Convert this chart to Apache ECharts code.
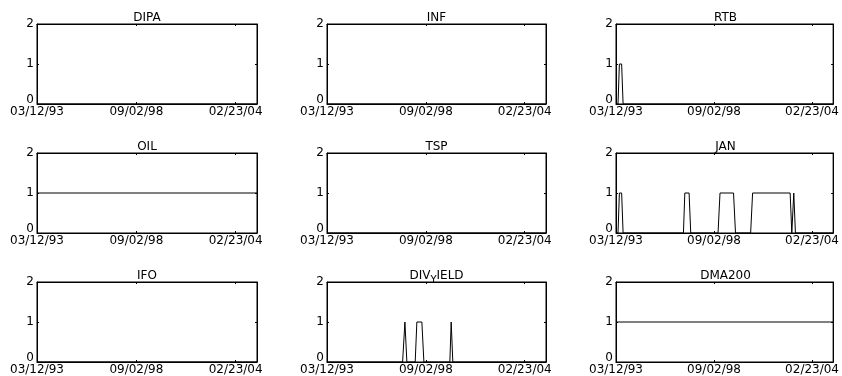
<!DOCTYPE html>
<html><head><meta charset="utf-8">
<script src="https://cdn.jsdelivr.net/npm/echarts@6/dist/echarts.min.js"></script>
<style>html,body{margin:0;padding:0;background:#fff}#c{width:842px;height:376px}</style>
</head><body><div id="c"></div>
<script>
// ---- data ----
const startDate = '1993-03-12';
const endDate = '2005-04-28';
const xTickStepDays = 2000;          // ticks: 03/12/93, 09/02/98, 02/23/04
const yMin = 0, yMax = 2, yStep = 1; // ticks: 0, 1, 2
const panelTitles = ['DIPA', 'INF', 'RTB', 'OIL', 'TSP', 'JAN', 'IFO', 'DIV_YIELD', 'DMA200'];

const DIPA = [['1993-03-12', 0], ['2005-04-28', 0]];
const INF  = [['1993-03-12', 0], ['2005-04-28', 0]];
const RTB  = [['1993-03-12', 0], ['1993-04-22', 0], ['1993-05-20', 1], ['1993-07-05', 1], ['1993-08-04', 0], ['2005-04-28', 0]];
const OIL  = [['1993-03-12', 1], ['2005-04-28', 1]];
const TSP  = [['1993-03-12', 0], ['2005-04-28', 0]];
const JAN  = [['1993-03-12', 0], ['1993-04-22', 0], ['1993-05-20', 1], ['1993-07-05', 1], ['1993-08-04', 0],
              ['1996-12-17', 0], ['1997-01-14', 1], ['1997-04-11', 1], ['1997-05-15', 0],
              ['1998-11-23', 0], ['1999-01-02', 1], ['1999-10-05', 1], ['1999-11-14', 0],
              ['2000-09-18', 0], ['2000-10-28', 1], ['2002-12-03', 1], ['2003-01-06', 0],
              ['2003-01-26', 0], ['2003-02-15', 1], ['2003-03-21', 0], ['2005-04-28', 0]];
const IFO  = [['1993-03-12', 0], ['2005-04-28', 0]];
const DIV_YIELD = [['1993-03-12', 0], ['1997-05-19', 0], ['1997-07-05', 1], ['1997-08-14', 0],
              ['1998-01-29', 0], ['1998-03-04', 1], ['1998-06-13', 1], ['1998-07-24', 0],
              ['1999-12-31', 0], ['2000-01-27', 1], ['2000-02-29', 0], ['2005-04-28', 0]];
const DMA200 = [['1993-03-12', 1], ['2005-04-28', 1]];
const panelData = [DIPA, INF, RTB, OIL, TSP, JAN, IFO, DIV_YIELD, DMA200];

// ---- layout ----
const colLeft = [37, 327, 616];
const colWidth = [220, 219, 219];
const rowTop = [24, 153, 282];
const rowHeight = 80;
const FONT = 'DejaVu Sans';
const FS = 12;

const DAY = 86400000;
const t0 = Date.parse(startDate);
const toDays = s => Math.round((Date.parse(s) - t0) / DAY);
const xMaxDays = toDays(endDate);
const pad2 = n => (n < 10 ? '0' : '') + n;
function fmtDate(days) {
  if (Math.round(days) % xTickStepDays !== 0) return '';
  const d = new Date(t0 + Math.round(days) * DAY);
  return pad2(d.getUTCMonth() + 1) + '/' + pad2(d.getUTCDate()) + '/' + pad2(d.getUTCFullYear() % 100);
}

const grids = [], xAxes = [], yAxes = [], series = [], titles = [];
const black = '#000';
panelTitles.forEach((name, i) => {
  const r = Math.floor(i / 3), c = i % 3;
  grids.push({ left: colLeft[c], top: rowTop[r], width: colWidth[c], height: rowHeight,
    show: true, borderColor: black, borderWidth: 1, backgroundColor: 'transparent', containLabel: false });
  const axLine = { show: true, onZero: false, lineStyle: { color: black, width: 1 } };
  const tick = { show: true, inside: true, length: 2, lineStyle: { color: black, width: 1 } };
  xAxes.push({ type: 'value', gridIndex: i, position: 'bottom', min: 0, max: xMaxDays, interval: xTickStepDays,
    axisLine: axLine, axisTick: tick, splitLine: { show: false },
    axisLabel: { formatter: fmtDate, color: black, fontFamily: FONT, fontSize: FS, margin: 2, showMaxLabel: false } });
  xAxes.push({ type: 'value', gridIndex: i, position: 'top', min: 0, max: xMaxDays, interval: xTickStepDays,
    axisLine: axLine, axisTick: tick, splitLine: { show: false }, axisLabel: { show: false } });
  yAxes.push({ type: 'value', gridIndex: i, position: 'left', min: yMin, max: yMax, interval: yStep,
    axisLine: axLine, axisTick: tick, splitLine: { show: false },
    axisLabel: { color: black, fontFamily: FONT, fontSize: FS, margin: 3,
      formatter: v => (v === 0 ? '{z|0}' : String(v)),
      rich: { z: { fontFamily: FONT, fontSize: FS, color: black, padding: [0, 0, 8, 0] } } } });
  yAxes.push({ type: 'value', gridIndex: i, position: 'right', min: yMin, max: yMax, interval: yStep,
    axisLine: axLine, axisTick: tick, splitLine: { show: false }, axisLabel: { show: false } });
  series.push({ type: 'line', xAxisIndex: 2 * i, yAxisIndex: 2 * i, symbol: 'none', showSymbol: false,
    lineStyle: { color: black, width: 1 }, animation: false,
    data: panelData[i].map(p => [toDays(p[0]), p[1]]) });
  let txt = name;
  if (name.indexOf('_') >= 0) {
    const parts = name.split('_');
    txt = '{a|' + parts[0] + '}{s|' + parts[1].charAt(0) + '}{a|' + parts[1].slice(1) + '}';
  }
  titles.push({ text: txt, left: colLeft[c] + colWidth[c] / 2, top: rowTop[r] - 12, textAlign: 'center', padding: 0,
    textStyle: { fontSize: FS, fontWeight: 'normal', fontFamily: FONT, color: black, lineHeight: 12,
      rich: { a: { fontSize: FS, fontFamily: FONT, color: black, lineHeight: 12, verticalAlign: 'top' },
              s: { fontSize: 10, fontFamily: FONT, color: black, lineHeight: 15, verticalAlign: 'bottom' } } } });
});

const chart = echarts.init(document.getElementById('c'), null, { renderer: 'canvas' });
chart.setOption({
  animation: false,
  backgroundColor: '#fff',
  textStyle: { fontFamily: FONT },
  title: titles, grid: grids, xAxis: xAxes, yAxis: yAxes, series: series
});
</script></body></html>
